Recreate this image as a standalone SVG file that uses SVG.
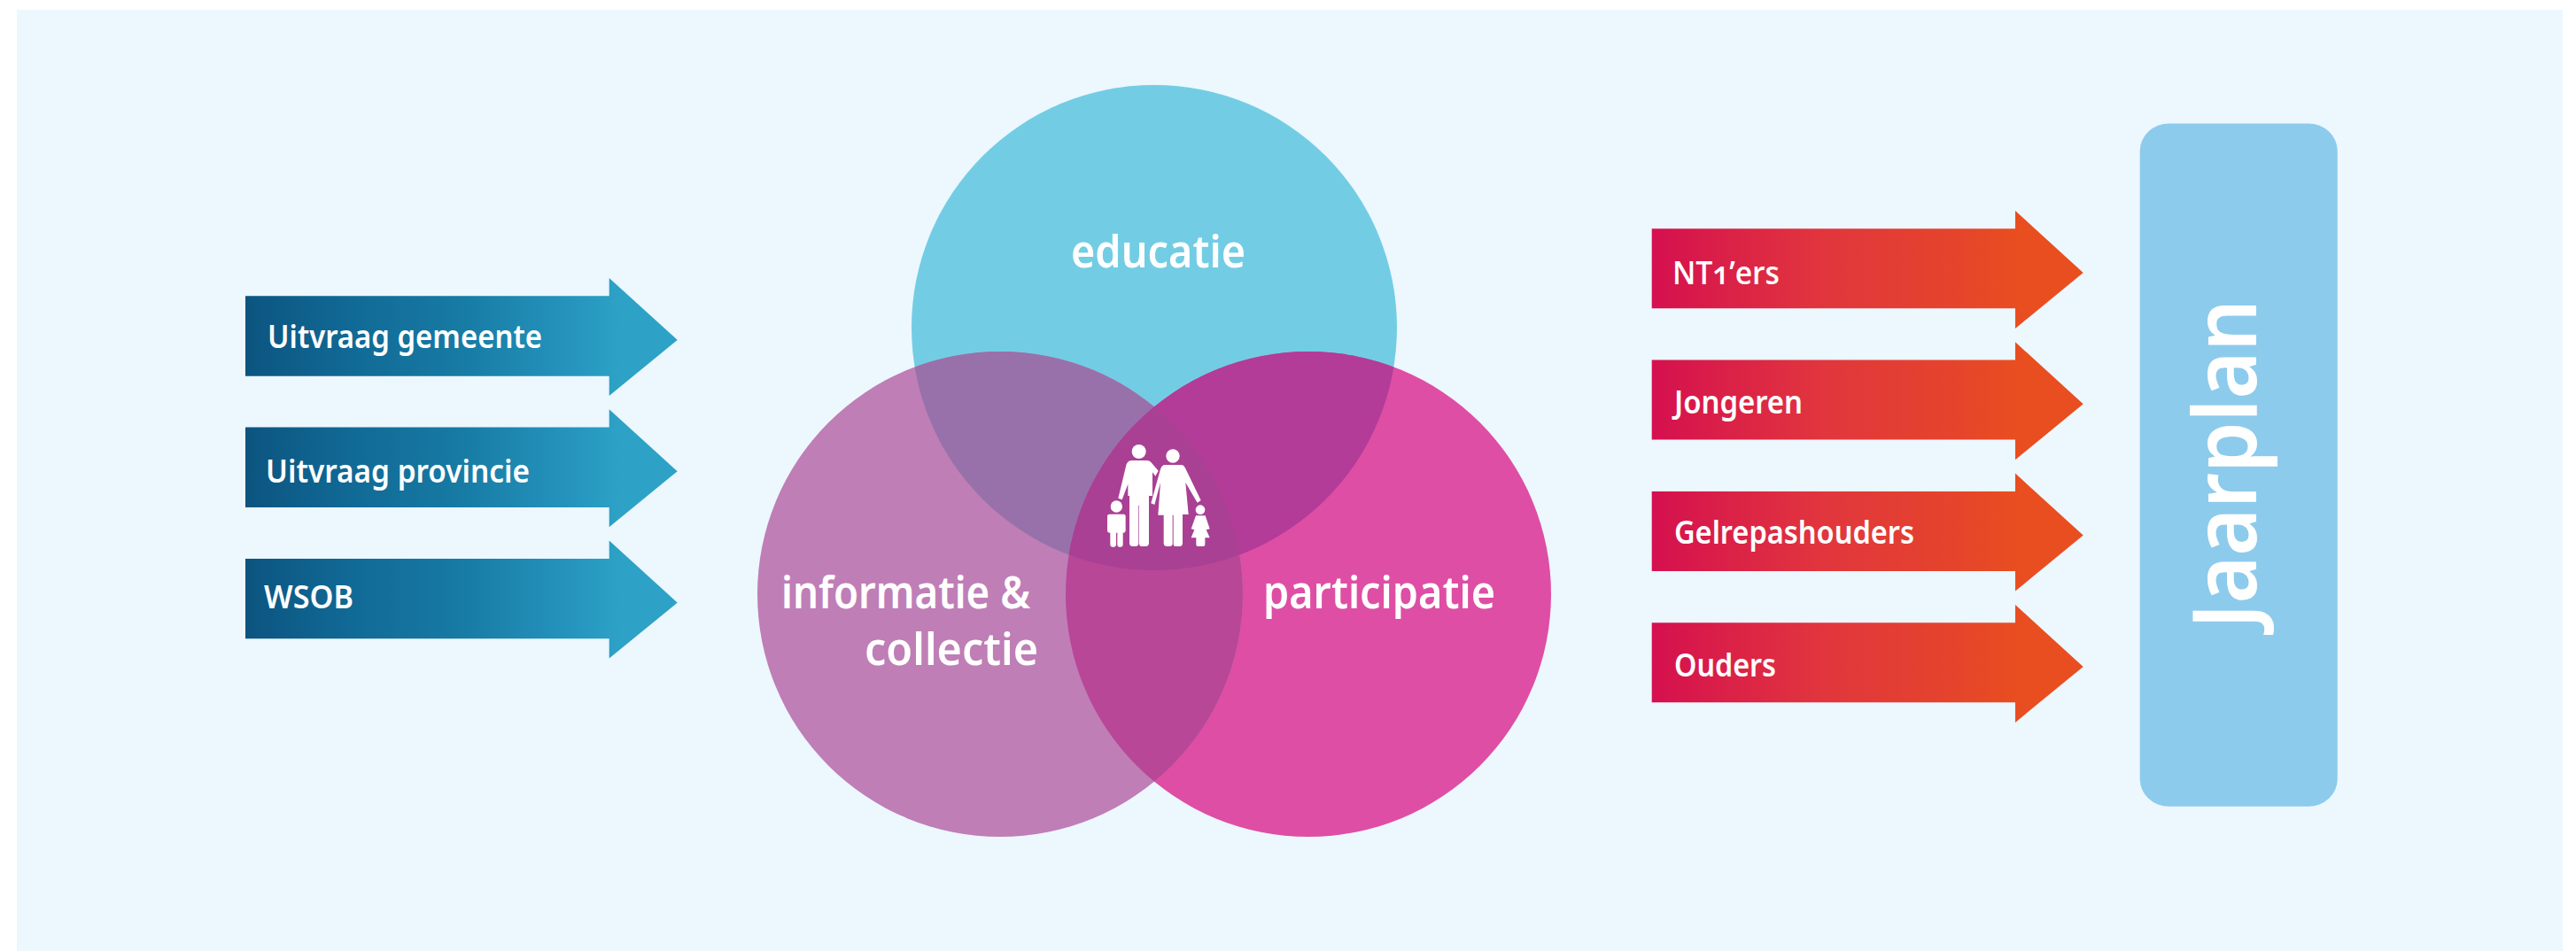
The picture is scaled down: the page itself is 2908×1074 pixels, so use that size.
<svg xmlns="http://www.w3.org/2000/svg" width="2908" height="1074" viewBox="0 0 2908 1074">
<style>
.t{font-family:"Noto Sans","Open Sans",sans-serif;fill:#fff;font-weight:600}
.s{font-size:36px}
.c{font-size:50px}
.fam{fill:#fff}
</style>
<defs>
<linearGradient id="blue" x1="0" x2="1" y1="0" y2="0"><stop offset="0" stop-color="#0c5480"/><stop offset=".25" stop-color="#116a96"/><stop offset=".5" stop-color="#177ba4"/><stop offset=".75" stop-color="#2594bd"/><stop offset=".87" stop-color="#2da2c6"/><stop offset="1" stop-color="#2da2c6"/></linearGradient>
<linearGradient id="red" x1="0" x2="1" y1="0" y2="0"><stop offset="0" stop-color="#d5104f"/><stop offset=".4" stop-color="#e1363d"/><stop offset=".7" stop-color="#e5442c"/><stop offset=".85" stop-color="#e94e20"/><stop offset="1" stop-color="#e94e20"/></linearGradient>
<path id="la" d="M277 334.300H687.700V314L764.700 384L687.700 447V424.700H277Z" fill="url(#blue)"/>
<path id="ra" d="M1864.700 258.300H2275V238L2351.700 308L2275 371V348.300H1864.700Z" fill="url(#red)"/>
<clipPath id="cT"><circle cx="1303" cy="370" r="274"/></clipPath>
<clipPath id="cL"><circle cx="1129" cy="671" r="274"/></clipPath>
<clipPath id="cR"><circle cx="1477" cy="671" r="274"/></clipPath>
</defs>
<rect id="background" x="19" y="11" width="2874" height="1063" fill="#ecf7fe"/>
<g id="connectors">
<use href="#la"/><use href="#la" y="148.300"/><use href="#la" y="296.600"/>
<use href="#ra"/><use href="#ra" y="148.300"/><use href="#ra" y="296.600"/><use href="#ra" y="444.900"/>
</g>
<g id="venn">
<circle id="educatie" cx="1303" cy="370" r="274" fill="#72cde4"/>
<circle id="participatie" cx="1477" cy="671" r="274" fill="#de4ea4"/>
<circle id="informatie" cx="1129" cy="671" r="274" fill="#bf7eb6"/>
<g clip-path="url(#cT)"><circle cx="1129" cy="671" r="274" fill="#9971aa"/><circle cx="1477" cy="671" r="274" fill="#b23c97"/></g>
<g clip-path="url(#cL)"><circle cx="1477" cy="671" r="274" fill="#b84797"/></g>
<g clip-path="url(#cL)"><g clip-path="url(#cR)"><circle cx="1303" cy="370" r="274" fill="#a94094"/></g></g>
</g>
<g id="family" class="fam" transform="translate(1200 470) scale(.33333)">
<circle cx="257" cy="120" r="24"/>
<path d="M232 150H285Q295 150 300 158L323 185L313 203L303 190V270H291V430Q291 441 280 441H265Q258 441 258 430V302H256V430Q256 441 246 441H236Q225 441 225 430V270H220V230L200 283L187 278L213 170Q217 150 232 150Z"/>
<circle cx="372" cy="135" r="23"/>
<path d="M345 165H400Q410 165 415 178L467 285L455 293L415 225L425 333H405V430Q405 441 395 441H380Q374 441 374 432V335H371V432Q371 441 360 441H352Q341 441 341 430V335H322L330 225L310 300L298 295L330 180Q335 165 345 165Z"/>
<circle cx="181" cy="306" r="20"/>
<path d="M157 332H205Q212 332 212 340V388Q212 395 205 395H203V436Q203 443 196 443H190Q184 443 184 436V395H180V436Q180 443 173 443H167Q160 443 160 436V395H157Q150 395 150 388V340Q150 332 157 332Z"/>
<circle cx="465" cy="317" r="16"/>
<path d="M450 337H482L497 382L485 385L497 412H481V436Q481 441 475 441H457Q451 441 451 436V412H434L445 385L434 382Z"/>
</g>
<g id="venn-labels">
<text class="t c" x="1209" y="302" textLength="197" lengthAdjust="spacingAndGlyphs">educatie</text>
<text class="t c" x="882" y="686.700" textLength="281" lengthAdjust="spacingAndGlyphs">informatie &amp;</text>
<text class="t c" x="976" y="750.700" textLength="196" lengthAdjust="spacingAndGlyphs">collectie</text>
<text class="t c" x="1426" y="686.700" textLength="262" lengthAdjust="spacingAndGlyphs">participatie</text>
</g>
<g id="left-labels">
<text class="t s" x="302" y="392.700" textLength="310" lengthAdjust="spacingAndGlyphs">Uitvraag gemeente</text>
<text class="t s" x="300" y="545" textLength="298" lengthAdjust="spacingAndGlyphs">Uitvraag provincie</text>
<text class="t s" x="298" y="686.700" textLength="101" lengthAdjust="spacingAndGlyphs">WSOB</text>
</g>
<g id="right-labels">
<text class="t s" x="1888" y="320.700" textLength="121" lengthAdjust="spacingAndGlyphs" style="font-family:'Open Sans','Noto Sans',sans-serif;font-variant-numeric:oldstyle-nums">NT1’ers</text>
<text class="t s" x="1890" y="467" textLength="145" lengthAdjust="spacingAndGlyphs">Jongeren</text>
<text class="t s" x="1890" y="614" textLength="271" lengthAdjust="spacingAndGlyphs">Gelrepashouders</text>
<text class="t s" x="1890" y="764" textLength="115" lengthAdjust="spacingAndGlyphs">Ouders</text>
</g>
<g id="jaarplan">
<rect x="2415.700" y="139.400" width="223" height="771.400" rx="33" ry="31" fill="#8dcbec"/>
<text class="t" style="font-size:100px" transform="translate(2546.700 710) rotate(-90)" textLength="372" lengthAdjust="spacingAndGlyphs">Jaarplan</text>
</g>
</svg>
